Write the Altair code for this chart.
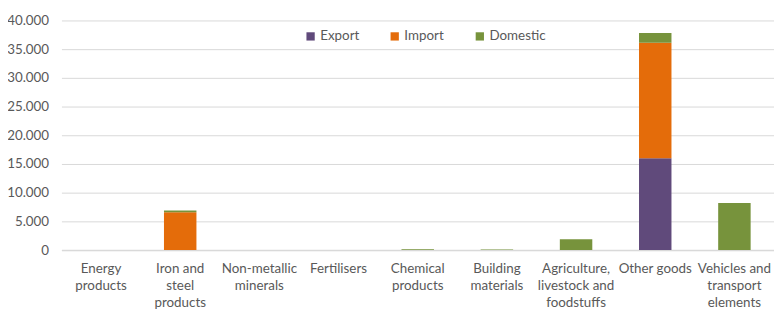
import altair as alt
import pandas as pd

categories = ["Energy|products", "Iron and|steel|products", "Non-metallic|minerals",
              "Fertilisers", "Chemical|products", "Building|materials",
              "Agriculture,|livestock and|foodstuffs", "Other goods",
              "Vehicles and|transport|elements"]
series = ["Export", "Import", "Domestic"]
export_vals = [0, 0, 0, 0, 0, 0, 0, 16000, 0]
import_vals = [0, 6600, 0, 0, 0, 0, 0, 20100, 0]
domestic_vals = [0, 300, 0, 0, 150, 80, 1900, 1700, 8200]
colors = ["#604A7B", "#E46C0A", "#77933C"]
y_ticks = [0, 5000, 10000, 15000, 20000, 25000, 30000, 35000, 40000]

rows = []
for i, c in enumerate(categories):
    for j, (s, vals) in enumerate(zip(series, [export_vals, import_vals, domestic_vals])):
        rows.append({"category": c, "series": s, "value": vals[i], "order": j})
df = pd.DataFrame(rows)

FONT = "Lato"
GREY = "#595959"

chart = alt.Chart(df).mark_bar().encode(
    x=alt.X("category:N", sort=categories, title=None,
            scale=alt.Scale(paddingInner=0.59, paddingOuter=0.295),
            axis=alt.Axis(labelAngle=0, ticks=False, domainColor="#D9D9D9", domainWidth=1.5,
                          labelColor=GREY, labelFont=FONT, labelFontSize=13.5,
                          labelLineHeight=17, labelPadding=12,
                          labelExpr="split(datum.label, '|')")),
    y=alt.Y("value:Q", stack="zero", title=None,
            scale=alt.Scale(domain=[0, 40000], nice=False),
            axis=alt.Axis(values=y_ticks, domain=False, ticks=False, gridColor="#D9D9D9",
                          gridWidth=1, labelColor=GREY, labelFont=FONT, labelFontSize=13.5,
                          labelPadding=13,
                          labelExpr="replace(format(datum.value, ',d'), ',', '.')")),
    color=alt.Color("series:N", title=None,
                    scale=alt.Scale(domain=series, range=colors),
                    legend=alt.Legend(orient="none", legendX=245, legendY=9,
                                      direction="horizontal", symbolType="square",
                                      symbolSize=70, symbolStrokeWidth=0,
                                      labelFont=FONT, labelFontSize=13.5, labelColor=GREY,
                                      labelOffset=3, columnPadding=29)),
    order=alt.Order("order:Q"),
).properties(
    width=720, height=232,
    autosize=alt.AutoSizeParams(type="none"),
    padding={"left": 54, "top": 11, "right": 0, "bottom": 61},
).configure_view(stroke=None)

chart.save("out.html", embed_options={"renderer": "svg", "actions": False})
